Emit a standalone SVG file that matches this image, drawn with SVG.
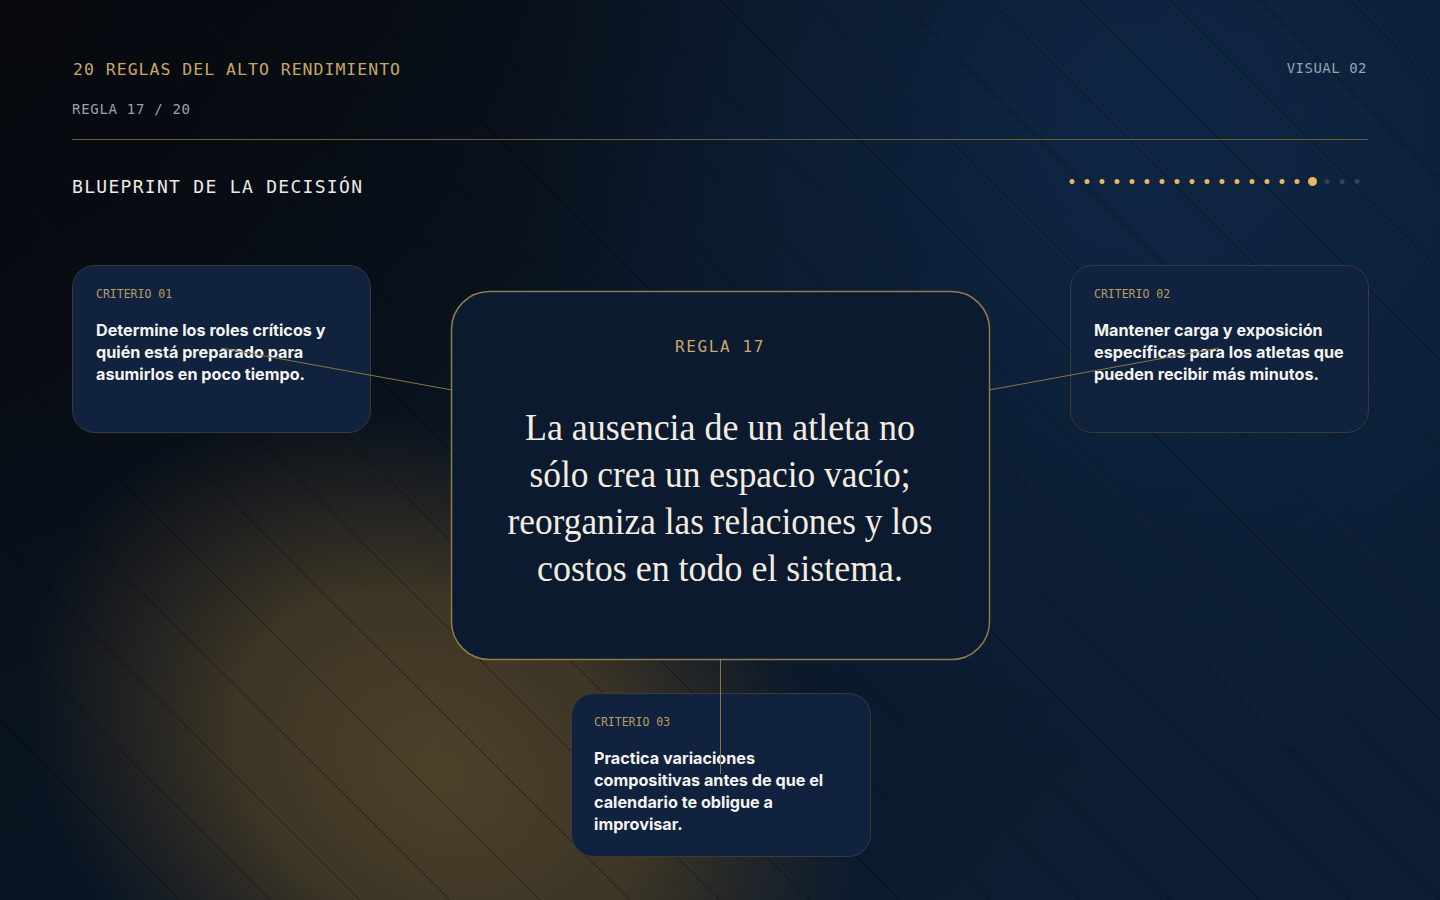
<svg xmlns="http://www.w3.org/2000/svg" width="1440" height="900" viewBox="0 0 1440 900">
<defs>
<linearGradient id="bgBase" x1="0" y1="0" x2="1" y2="0.6">
<stop offset="0" stop-color="#080c13"/>
<stop offset="0.5" stop-color="#0a1524"/>
<stop offset="1" stop-color="#0c1d33"/>
</linearGradient>
<radialGradient id="blueGlow" cx="1150" cy="120" r="650" gradientUnits="userSpaceOnUse">
<stop offset="0" stop-color="#0f2a4c" stop-opacity="0.8"/>
<stop offset="1" stop-color="#0f2a4c" stop-opacity="0"/>
</radialGradient>
<radialGradient id="goldGlow" cx="0" cy="0" r="1" gradientUnits="userSpaceOnUse" gradientTransform="translate(440 770) rotate(30) scale(440 330)">
<stop offset="0" stop-color="#4d4229" stop-opacity="1"/>
<stop offset="0.5" stop-color="#453a25" stop-opacity="0.85"/>
<stop offset="1" stop-color="#3a3120" stop-opacity="0"/>
</radialGradient>
<radialGradient id="darkCorner" cx="0" cy="0" r="700" gradientUnits="userSpaceOnUse">
<stop offset="0" stop-color="#06080c" stop-opacity="0.8"/>
<stop offset="1" stop-color="#06080c" stop-opacity="0"/>
</radialGradient>
<pattern id="diag" width="90" height="90" patternUnits="userSpaceOnUse">
<line x1="-2" y1="-2" x2="92" y2="92" stroke="#000" stroke-width="1" stroke-opacity="0.42"/>
</pattern>
</defs>
<style>
.mono{font-family:"DejaVu Sans Mono","Liberation Mono",monospace;}
.gold{fill:#c9a867;}
.gray{fill:#9aa2ad;}
.card{fill:#10223d;stroke:#3b3a36;stroke-width:1;}
.lbl{font-family:"DejaVu Sans Mono","Liberation Mono",monospace;font-size:11.5px;fill:#b99d66;}
.body{font-family:Inter,"Noto Sans",sans-serif;font-size:16.2px;font-weight:700;fill:#f4f4f2;}
.serif{font-family:"Liberation Serif","DejaVu Serif",serif;font-size:37px;fill:#f3ece0;}
.conn{stroke:#8a7448;stroke-width:1;fill:none;}
</style>
<rect width="1440" height="900" fill="url(#bgBase)"/>
<rect width="1440" height="900" fill="url(#blueGlow)"/>
<rect width="1440" height="900" fill="url(#darkCorner)"/>
<rect width="1440" height="900" fill="url(#goldGlow)"/>
<rect width="1440" height="900" fill="url(#diag)"/>

<g id="header">
<text class="mono gold" x="73" y="75" font-size="16.5" letter-spacing="1">20 REGLAS DEL ALTO RENDIMIENTO</text>
<text class="mono gray" x="72" y="114" font-size="14" letter-spacing="0.7">REGLA 17 / 20</text>
<text class="mono gray" x="1367" y="73" font-size="14" letter-spacing="0.5" text-anchor="end">VISUAL 02</text>
<line x1="72" y1="139.5" x2="1368" y2="139.5" stroke="#6e5a36" stroke-width="1"/>
<text class="mono" x="72" y="193" font-size="18" letter-spacing="1.3" fill="#ecebe7">BLUEPRINT DE LA DECISIÓN</text>
</g>

<g id="progress" fill="#e7b95f">
<circle cx="1072" cy="181.5" r="2.5"/><circle cx="1087" cy="181.5" r="2.5"/><circle cx="1102" cy="181.5" r="2.5"/><circle cx="1117" cy="181.5" r="2.5"/>
<circle cx="1132" cy="181.5" r="2.5"/><circle cx="1147" cy="181.5" r="2.5"/><circle cx="1162" cy="181.5" r="2.5"/><circle cx="1177" cy="181.5" r="2.5"/>
<circle cx="1192" cy="181.5" r="2.5"/><circle cx="1207" cy="181.5" r="2.5"/><circle cx="1222" cy="181.5" r="2.5"/><circle cx="1237" cy="181.5" r="2.5"/>
<circle cx="1252" cy="181.5" r="2.5"/><circle cx="1267" cy="181.5" r="2.5"/><circle cx="1282" cy="181.5" r="2.5"/><circle cx="1297" cy="181.5" r="2.5"/>
<circle cx="1312.5" cy="181.5" r="4.5"/>
<circle cx="1327" cy="181.5" r="2.5" fill="#3a4250"/><circle cx="1342" cy="181.5" r="2.5" fill="#3a4250"/><circle cx="1357" cy="181.5" r="2.5" fill="#3a4250"/>
</g>

<g id="criterio-01">
<rect class="card" x="72.5" y="265.5" width="298" height="167" rx="22"/>
<text class="lbl" x="96" y="298">CRITERIO 01</text>
<text class="body" x="96" y="336">Determine los roles críticos y</text>
<text class="body" x="96" y="358">quién está preparado para</text>
<text class="body" x="96" y="380">asumirlos en poco tiempo.</text>
</g>

<g id="criterio-02">
<rect class="card" x="1070.5" y="265.5" width="298" height="167" rx="22"/>
<text class="lbl" x="1094" y="298">CRITERIO 02</text>
<text class="body" x="1094" y="336">Mantener carga y exposición</text>
<text class="body" x="1094" y="358">específicas para los atletas que</text>
<text class="body" x="1094" y="380">pueden recibir más minutos.</text>
</g>

<g id="criterio-03">
<rect class="card" x="571.5" y="693.5" width="299" height="163" rx="22"/>
<text class="lbl" x="594" y="726">CRITERIO 03</text>
<text class="body" x="594" y="764">Practica variaciones</text>
<text class="body" x="594" y="786">compositivas antes de que el</text>
<text class="body" x="594" y="808">calendario te obligue a</text>
<text class="body" x="594" y="830">improvisar.</text>
</g>

<g id="connectors">
<line class="conn" x1="221" y1="348" x2="452" y2="390"/>
<line class="conn" x1="1219" y1="348" x2="989" y2="390"/>
<line class="conn" x1="720.5" y1="659" x2="720.5" y2="774"/>
</g>

<g id="regla-17">
<rect x="451.5" y="291.5" width="538" height="368" rx="38" fill="#0b1a2f" stroke="#8f7a4c" stroke-width="1.5"/>
<text class="mono gold" x="720" y="352" font-size="16" letter-spacing="1.6" text-anchor="middle">REGLA 17</text>
<text class="serif" x="720" y="440" text-anchor="middle" textLength="390" lengthAdjust="spacingAndGlyphs">La ausencia de un atleta no</text>
<text class="serif" x="720" y="487" text-anchor="middle" textLength="381" lengthAdjust="spacingAndGlyphs">sólo crea un espacio vacío;</text>
<text class="serif" x="720" y="534" text-anchor="middle" textLength="425" lengthAdjust="spacingAndGlyphs">reorganiza las relaciones y los</text>
<text class="serif" x="720" y="581" text-anchor="middle" textLength="366" lengthAdjust="spacingAndGlyphs">costos en todo el sistema.</text>
</g>
</svg>
